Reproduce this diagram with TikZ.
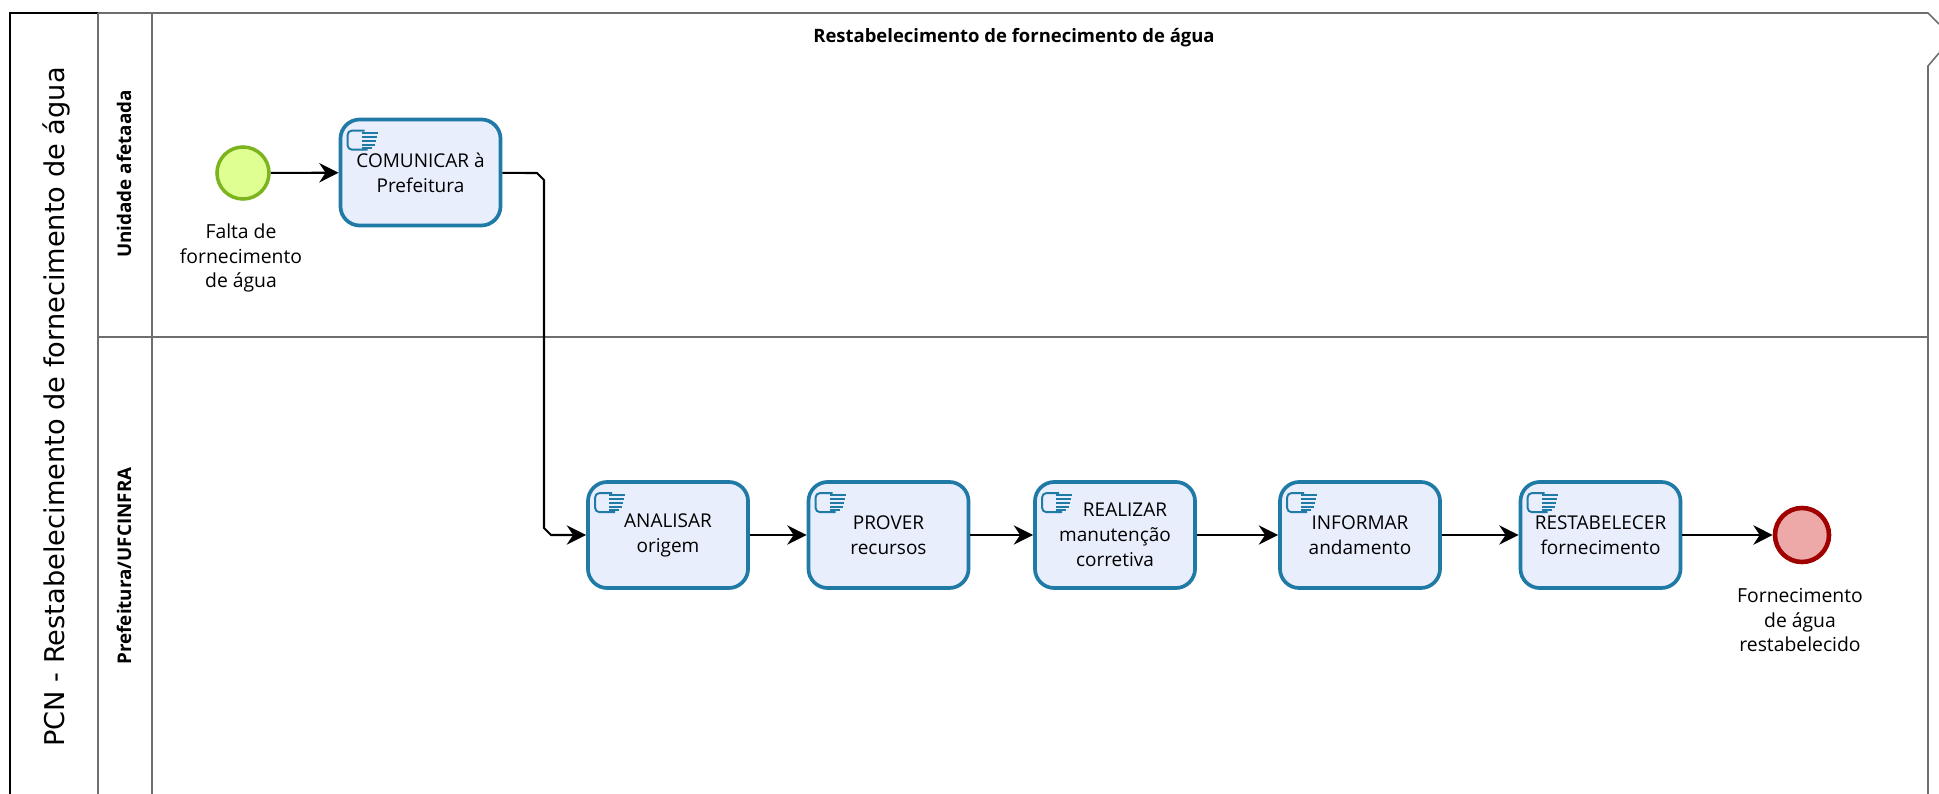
\documentclass[tikz,border=0pt]{standalone}
\usepackage{fontspec}
\usepackage{xcolor}
\setmainfont{Open Sans}
\newfontfamily\poolfont{DejaVu Sans}
\usetikzlibrary{calc}
\usetikzlibrary{arrows.meta}
\definecolor{dTask}{HTML}{1F7AA5}
\definecolor{dTaskFill}{HTML}{E9EEFD}
\definecolor{dStart}{HTML}{7CB420}
\definecolor{dStartFill}{HTML}{E0FF92}
\definecolor{dEnd}{HTML}{A10000}
\definecolor{dEndFill}{HTML}{EDA8A8}
\definecolor{dLane}{HTML}{6E6E6E}
\tikzset{
    task/.style={
            draw=dTask,
            fill=dTaskFill,
            line width=1.05pt,
            rounded corners=5.5pt,
            minimum width=1.6cm,
            minimum height=1.06cm,
            inner sep=0pt,
            align=center,
            font=\fontsize{5.4pt}{7.1pt}\selectfont
        },
    startevent/.style={
            circle,
            draw=dStart,
            fill=dStartFill,
            line width=1pt,
            inner sep=0pt,
            minimum size=.52cm
        },
    endevent/.style={
            circle,
            draw=dEnd,
            fill=dEndFill,
            line width=1.3pt,
            inner sep=0pt,
            minimum size=.54cm
        },
    evlabel/.style={
            align=center,
            inner sep=0pt,
            font=\fontsize{5.5pt}{7.1pt}\selectfont
        },
    lanetitle/.style={
            rotate=90,
            inner sep=0pt,
            font=\fontsize{5.35pt}{6pt}\selectfont\bfseries
        },
    flow/.style={
            line width=.6pt,
            -{Stealth[length=5.5pt,width=5.5pt,inset=1.8pt]}
        },
    laneline/.style={
            line width=.45pt,
            dLane
        }
}
\newcommand{\handicon}[1]{%
    \begin{scope}[shift={($(#1.north west)+(9,12)$)},dTask,line width=.55pt]
        \draw[rounded corners=1.2pt] (17,1) -- (0,1) -- (0,20) -- (20,20);
        \foreach \w/\h in {30/3,29/7,28/11,27/15,24/18}{
                \draw (14,\h) -- (\w,\h);
            }
    \end{scope}
}
\begin{document}
\begin{tikzpicture}[x=.01cm,y=-.01cm]
    \useasboundingbox (0,0) rectangle (1939,794);
    % pool and lanes
    \draw[line width=.5pt,black] (98,13) -- (10,13) -- (10,794);
    \draw[laneline] (98,13) -- (1928,13) -- (1939,24);
    \draw[laneline] (1939,53) -- (1928,66) -- (1928,794);
    \draw[laneline] (98,13) -- (98,794);
    \draw[laneline] (152,13) -- (152,794);
    \draw[laneline,line width=.6pt] (98,337) -- (1928,337);
    \node[inner sep=0pt,font=\fontsize{7.74pt}{9pt}\poolfont] (pooltitle) at (56,407) [rotate=90] {PCN - Restabelecimento de fornecimento de água};
    \node[lanetitle] (laneunit) at (124,174) {Unidade afetaada};
    \node[lanetitle] (lanecity) at (124,566) {Prefeitura/UFCINFRA};
    \node[inner sep=0pt,font=\fontsize{5.25pt}{6pt}\selectfont\bfseries] (title) at (1014,38) {Restabelecimento de fornecimento de água};
    % events
    \node[startevent] (start) at (243,173) {};
    \node[endevent] (end) at (1802,535) {};
    \node[evlabel] (startlabel) at (241,258) {Falta de\\fornecimento\\de água};
    \node[evlabel] (endlabel) at (1800,620) {Fornecimento\\de água\\restabelecido};
    % tasks
    \node[task] (comunicar) at (420.5,172.5) {COMUNICAR à\\Prefeitura};
    \node[task] (analisar) at (668,535) {ANALISAR\\origem};
    \node[task] (prover) at (888.5,535) {PROVER\\recursos};
    \node[task] (realizar) at (1115,535) {\hspace*{.2cm}REALIZAR\\manutenção\\corretiva};
    \node[task] (informar) at (1360,535) {INFORMAR\\andamento};
    \node[task] (restabelecer) at (1600.5,535) {RESTABELECER\\fornecimento};
    \foreach \t in {comunicar,analisar,prover,realizar,informar,restabelecer}{
            \handicon{\t}
        }
    % flows
    \coordinate (bendtopa) at (537,173);
    \coordinate (bendtopb) at (544,180);
    \coordinate (bendbota) at (544,528);
    \coordinate (bendbotb) at (551,535);
    \draw[flow] (start) -- (comunicar);
    \draw[flow] (comunicar) -- (bendtopa) -- (bendtopb) -- (bendbota) -- (bendbotb) -- (analisar);
    \draw[flow] (analisar) -- (prover);
    \draw[flow] (prover) -- (realizar);
    \draw[flow] (realizar) -- (informar);
    \draw[flow] (informar) -- (restabelecer);
    \draw[flow] (restabelecer) -- (end);
\end{tikzpicture}
\end{document}
